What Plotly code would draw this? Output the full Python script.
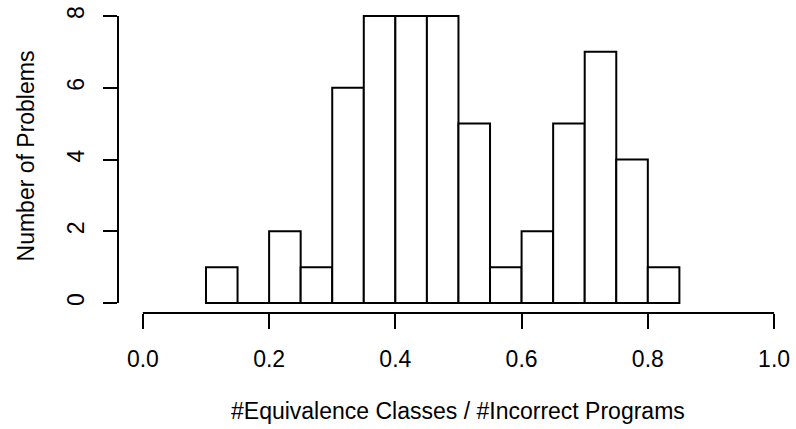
import plotly.graph_objects as go

# Histogram bins (left edges, width 0.05) and counts per bin
bin_left = [0.10, 0.15, 0.20, 0.25, 0.30, 0.35, 0.40, 0.45, 0.50, 0.55, 0.60, 0.65, 0.70, 0.75, 0.80]
counts = [1, 0, 2, 1, 6, 8, 8, 8, 5, 1, 2, 5, 7, 4, 1]
bin_width = 0.05

x_ticks = [0.0, 0.2, 0.4, 0.6, 0.8, 1.0]
x_tick_text = ["0.0", "0.2", "0.4", "0.6", "0.8", "1.0"]
y_ticks = [0, 2, 4, 6, 8]

x_title = "#Equivalence Classes / #Incorrect Programs"
y_title = "Number of Problems"

W, H = 796, 429
FONT = "Liberation Sans, Arial, Helvetica, sans-serif"
FS = 23
LW = 2

centers = [b + bin_width / 2 for b in bin_left]

fig = go.Figure(
    go.Bar(
        x=centers,
        y=counts,
        width=[bin_width] * len(counts),
        marker=dict(color="white", line=dict(color="black", width=LW)),
        hoverinfo="skip",
    )
)

fig.update_layout(
    width=W,
    height=H,
    margin=dict(l=118, r=6, t=8, b=116),
    paper_bgcolor="white",
    plot_bgcolor="white",
    showlegend=False,
    font=dict(family=FONT, size=FS, color="black"),
    xaxis=dict(
        range=[-0.0394, 1.0189],
        tickvals=x_ticks,
        ticktext=x_tick_text,
        ticks="outside",
        ticklen=15,
        tickwidth=LW,
        tickcolor="black",
        showgrid=False,
        zeroline=False,
        showline=False,
        ticklabelstandoff=10,
    ),
    yaxis=dict(
        range=[-0.2768, 8.166],
        tickvals=y_ticks,
        ticks="outside",
        ticklen=14,
        tickwidth=LW,
        tickcolor="black",
        tickangle=-90,
        showgrid=False,
        zeroline=False,
        showline=False,
        ticklabelstandoff=10,
    ),
    shapes=[
        # R-style axis lines spanning only the tick range
        dict(type="line", xref="x", yref="paper", x0=x_ticks[0], x1=x_ticks[-1], y0=0, y1=0,
             line=dict(color="black", width=LW)),
        dict(type="line", xref="paper", yref="y", x0=0, x1=0, y0=y_ticks[0], y1=y_ticks[-1],
             line=dict(color="black", width=LW)),
    ],
    annotations=[
        dict(text=x_title, xref="x", yref="paper", x=0.5, y=-(412 - 313) / (313 - 8),
             showarrow=False, xanchor="center", yanchor="middle", font=dict(size=FS)),
        dict(text=y_title, xref="paper", yref="y", x=-(118 - 25) / (790 - 118), y=4.1,
             showarrow=False, xanchor="center", yanchor="middle", textangle=-90, font=dict(size=FS)),
    ],
)

fig.write_html("out.html")
